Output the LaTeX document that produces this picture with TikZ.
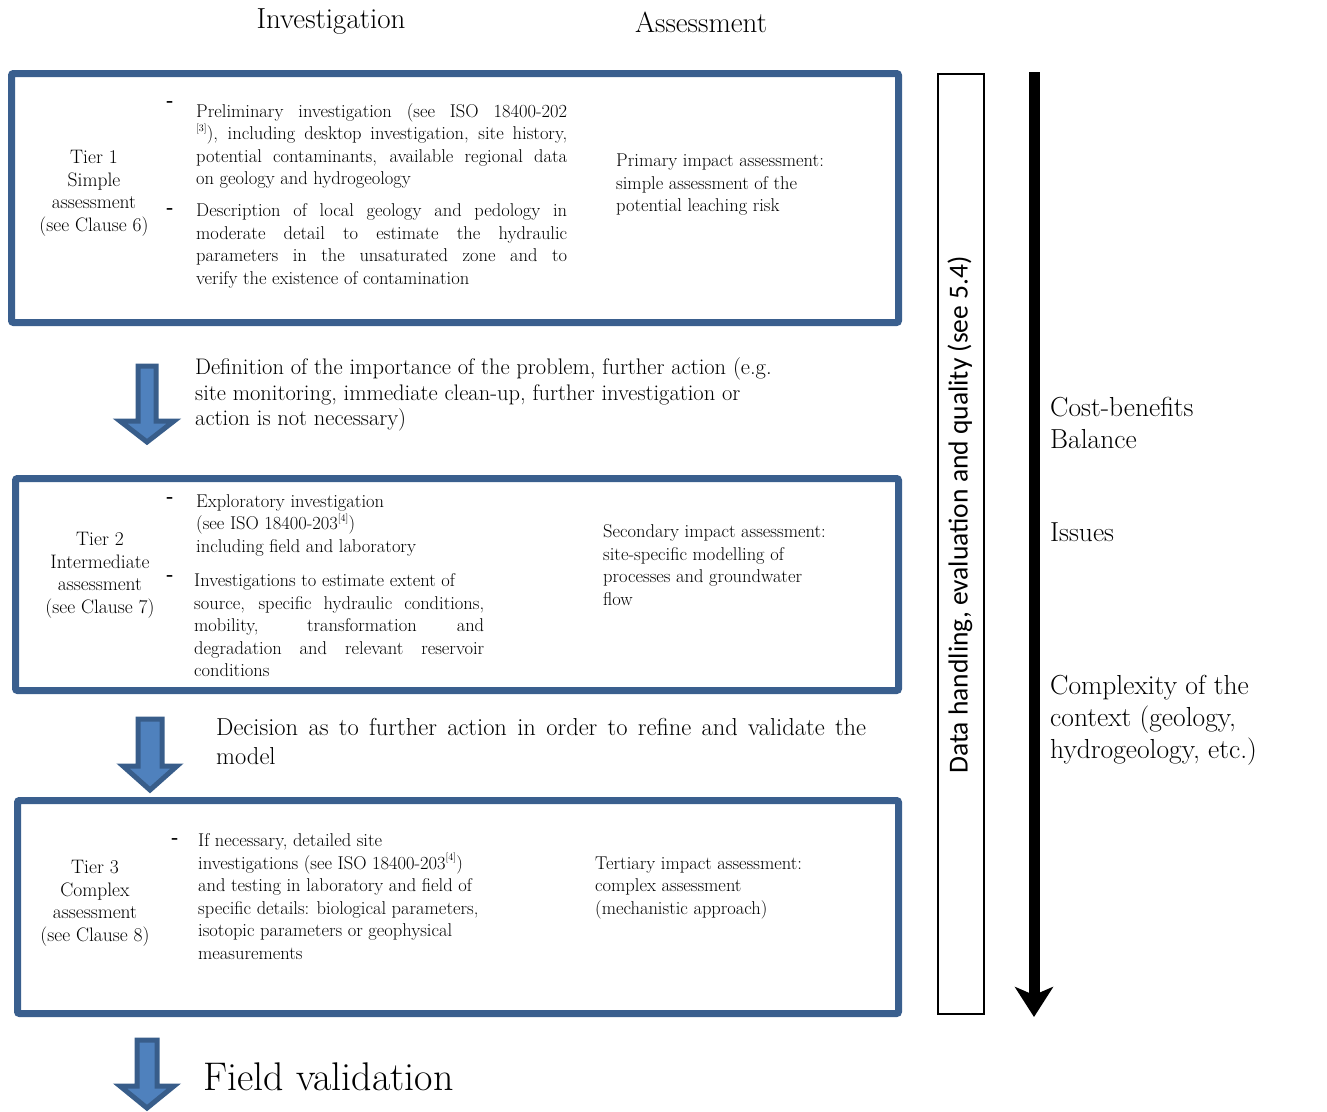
\documentclass[tikz,border=0pt]{standalone}
\usepackage{fontspec}
\newfontfamily\sidefont{Carlito}
\usetikzlibrary{arrows.meta}

\definecolor{tierblue}{HTML}{3A5F8E}
\definecolor{arrowline}{HTML}{385D8A}
\definecolor{arrowfill}{HTML}{4F81BD}

\newcommand{\refmark}[1]{\raisebox{0.45em}{\fontsize{10}{10}\selectfont[#1]}}
\newcommand{\jline}[2]{\makebox[#1][s]{#2}}
% block arrow: centre x, top, head start, tip, half shaft width
\newcommand{\tierarrow}[5]{%
  \draw[arrowline, fill=arrowfill, line width=5pt, line join=miter]
    ({#1-#5},#2) -- ({#1+#5},#2) -- ({#1+#5},#3) -- ({#1+27},#3)
    -- (#1,#4) -- ({#1-27},#3) -- ({#1-#5},#3) -- cycle;}

\tikzset{
  tierbox/.style={draw=tierblue, line width=7pt, rounded corners=2pt},
  boxtext/.style={font={\fontsize{18.5}{22.5}\selectfont}, inner sep=0pt},
  tierlabel/.style={font={\fontsize{19.5}{22.5}\selectfont}, inner sep=0pt, align=center},
  itemtext/.style={boxtext, align=left, anchor=west},
  midtext/.style={align=left, anchor=west, inner sep=0pt},
  sidetext/.style={font={\fontsize{27.5}{32}\selectfont}, align=left, anchor=west, inner sep=0pt},
}

\begin{document}
\begin{tikzpicture}[x=1pt,y=-1pt]
  \useasboundingbox (0,0) rectangle (1327,1111);

  % Headings
  \node[font={\fontsize{29}{32}\selectfont}] (hdinv) at (331,22) {Investigation};
  \node[font={\fontsize{29}{32}\selectfont}] (hdass) at (701,22) {Assessment};

  % Tier boxes
  \draw[tierbox] (11.5,73.5) rectangle (898.5,322.5);
  \draw[tierbox] (15.5,478.5) rectangle (898.5,690.5);
  \draw[tierbox] (17.5,800.5) rectangle (898.5,1013.5);

  % Tier 1
  \node[tierlabel] (tier1) at (94,193.5) {Tier 1\\Simple\\assessment\\(see Clause 6)};
  \node[boxtext] (dash1a) at (170,104) {\textbf{-}};
  \node[boxtext] (dash1b) at (170,211) {\textbf{-}};
  \node[itemtext] (item1a) at (196,146) {%
    \jline{371pt}{Preliminary investigation (see ISO 18400-202}\\
    \jline{371pt}{\refmark{3}), including desktop investigation, site history,}\\
    \jline{371pt}{potential contaminants, available regional data}\\
    on geology and hydrogeology};
  \node[itemtext] (item1b) at (196,246) {%
    \jline{371pt}{Description of local geology and pedology in}\\
    \jline{371pt}{moderate detail to estimate the hydraulic}\\
    \jline{371pt}{parameters in the unsaturated zone and to}\\
    verify the existence of contamination};
  \node[itemtext] (assess1) at (616,185) {Primary impact assessment:\\simple assessment of the\\potential leaching risk};

  % Tier 2
  \node[tierlabel] (tier2) at (100,575.5) {Tier 2\\Intermediate\\assessment\\(see Clause 7)};
  \node[boxtext] (dash2a) at (170,500) {\textbf{-}};
  \node[boxtext] (dash2b) at (170,578) {\textbf{-}};
  \node[itemtext] (item2a) at (196,525) {Exploratory investigation\\(see ISO 18400-203\refmark{4})\\including field and laboratory};
  \node[itemtext] (item2b) at (194,625.5) {%
    Investigations to estimate extent of\\
    \jline{290pt}{source, specific hydraulic conditions,}\\
    \jline{290pt}{mobility, transformation and}\\
    \jline{290pt}{degradation and relevant reservoir}\\
    conditions};
  \node[itemtext] (assess2) at (603,565) {Secondary impact assessment:\\site-specific modelling of\\processes and groundwater\\flow};

  % Tier 3
  \node[tierlabel] (tier3) at (95,903.5) {Tier 3\\Complex\\assessment\\(see Clause 8)};
  \node[boxtext] (dash3a) at (175,841) {\textbf{-}};
  \node[itemtext] (item3a) at (198,896.5) {If necessary, detailed site\\investigations (see ISO 18400-203\refmark{4})\\and testing in laboratory and field of\\specific details: biological parameters,\\isotopic parameters or geophysical\\measurements};
  \node[itemtext] (assess3) at (595,888) {Tertiary impact assessment:\\complex assessment\\(mechanistic approach)};

  % Arrows between tiers
  \tierarrow{147}{366}{421}{442}{9}
  \tierarrow{150}{719}{766}{790}{12}
  \tierarrow{147}{1040}{1086}{1108}{10}

  \node[midtext, font={\fontsize{22.5}{25.5}\selectfont}] (step1) at (195,394.5) {%
    Definition of the importance of the problem, further action (e.g.\\
    site monitoring, immediate clean-up, further investigation or\\
    action is not necessary)};
  \node[midtext, font={\fontsize{24.5}{29}\selectfont}] (step2) at (216,741.5) {%
    \jline{650pt}{Decision as to further action in order to refine and validate the}\\
    model};
  \node[midtext, font={\fontsize{40}{44}\selectfont}] (fieldval) at (203,1077) {Field validation};

  % Data handling column
  \draw[line width=2pt] (938,74) rectangle (984,1014);
  \node[rotate=90, font={\sidefont\fontsize{27.5}{30}\selectfont}] (datahand) at (960,515)
    {Data handling, evaluation and quality (see 5.4)};

  % Increasing complexity
  \draw[line width=11pt, -{Stealth[length=30pt,width=38pt,inset=8pt]}] (1034,72) -- (1034,1017);
  \node[sidetext] (cost) at (1050,423) {Cost-benefits\\Balance};
  \node[sidetext] (issues) at (1050,532) {Issues};
  \node[sidetext] (complex) at (1050,720.5) {Complexity of the\\context (geology,\\hydrogeology, etc.)};
\end{tikzpicture}
\end{document}
